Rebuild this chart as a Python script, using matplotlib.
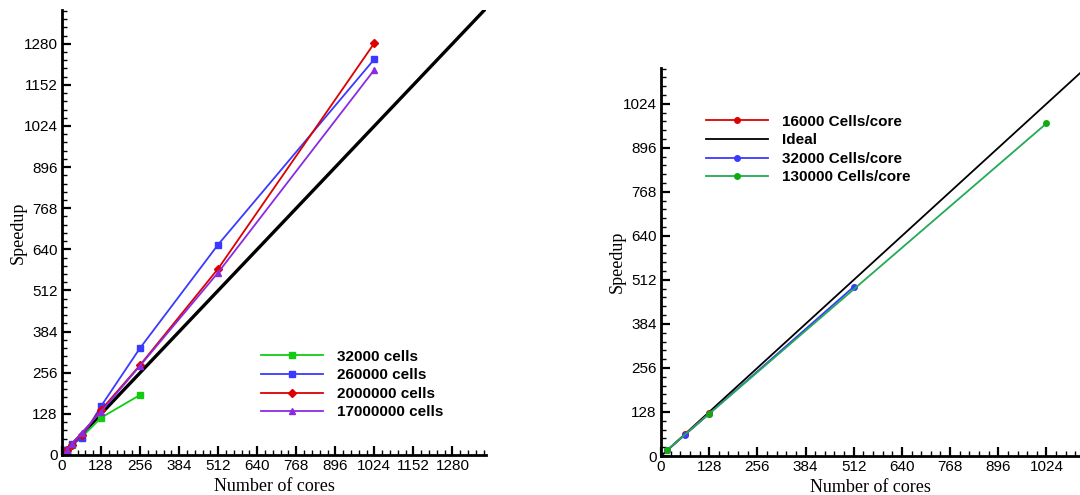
import matplotlib.pyplot as plt
from matplotlib.ticker import MultipleLocator

# ----------------------------------------------------------
# Data (left: strong scaling per mesh size)
# ----------------------------------------------------------

cores_32k = [16, 32, 64, 128, 256]
speedup_32k = [16, 31, 55, 116, 187]

cores_260k = [16, 32, 64, 128, 256, 512, 1024]
speedup_260k = [16, 33, 52, 152, 333, 655, 1232]

cores_2m = [16, 32, 64, 128, 256, 512, 1024]
speedup_2m = [16, 32, 63, 140, 280, 580, 1282]

cores_17m = [16, 32, 64, 128, 256, 512, 1024]
speedup_17m = [16, 34, 68, 135, 278, 568, 1199]

ideal_left = [0, 1500]

# ----------------------------------------------------------
# Data (right: cells per core)
# ----------------------------------------------------------

cores_16k = [16, 64, 128]
speedup_16k = [16, 63, 124]

cores_32kc = [16, 64, 128, 512]
speedup_32kc = [16, 62, 123, 492]

cores_130k = [16, 128, 1024]
speedup_130k = [17, 123, 967]

ideal_right = [0, 1200]

ticks = [0, 128, 256, 384, 512, 640, 768, 896, 1024, 1152, 1280]

plt.rcParams["font.family"] = ["Liberation Sans", "DejaVu Sans"]

fig = plt.figure(figsize=(10.8, 4.95), dpi=100)

ax1 = fig.add_axes([62 / 1080, 1 - 455 / 495, (486 - 62) / 1080, (455 - 10) / 495])
ax2 = fig.add_axes([661 / 1080, 1 - 456 / 495, (1080 - 661) / 1080, (456 - 68) / 495])


def style_axes(ax, xmax, ymax):
    ax.set_xlim(0, xmax)
    ax.set_ylim(0, ymax)
    ax.set_xticks([t for t in ticks if t <= xmax])
    ax.set_yticks([t for t in ticks if t <= ymax])
    ax.xaxis.set_minor_locator(MultipleLocator(25.6))
    ax.yaxis.set_minor_locator(MultipleLocator(25.6))
    ax.tick_params(which="major", direction="in", length=6.5, width=1.6,
                   labelsize=11, pad=3)
    ax.tick_params(which="minor", direction="in", length=3.5, width=1.0)
    for side in ["top", "right"]:
        ax.spines[side].set_visible(False)
    for side in ["left", "bottom"]:
        ax.spines[side].set_linewidth(2.0)
    ax.set_xlabel("Number of cores", family="Liberation Serif", fontsize=13)
    ax.set_ylabel("Speedup", family="Liberation Serif", fontsize=13)


# ----------------------------------------------------------
# Left panel
# ----------------------------------------------------------

ax1.plot(ideal_left, ideal_left, color="black", linewidth=2.4, zorder=1)
ax1.plot(cores_32k, speedup_32k, color="#11cc11", marker="s", markersize=5,
         linewidth=1.3, label="32000 cells")
ax1.plot(cores_260k, speedup_260k, color="#3a3aff", marker="s", markersize=5,
         linewidth=1.3, label="260000 cells")
ax1.plot(cores_2m, speedup_2m, color="#dd0000", marker="D", markersize=4.5,
         linewidth=1.3, label="2000000 cells")
ax1.plot(cores_17m, speedup_17m, color="#8a2be2", marker="^", markersize=5,
         linewidth=1.3, label="17000000 cells")

style_axes(ax1, 1390, 1385)
ax1.yaxis.set_label_coords(-0.084, 0.5)
ax1.xaxis.set_label_coords(0.5, -0.052)

ax1.legend(loc="upper left", bbox_to_anchor=(250 / 1080, 1 - 339 / 495),
           bbox_transform=fig.transFigure, frameon=False,
           prop={"weight": "bold", "size": 11}, handlelength=4.1,
           handletextpad=0.9, labelspacing=0.3, borderpad=0.2)

# ----------------------------------------------------------
# Right panel
# ----------------------------------------------------------

ax2.plot(cores_16k, speedup_16k, color="#dd0000", marker="o", markersize=4,
         linewidth=1.3, label="16000 Cells/core", zorder=2)
ax2.plot(ideal_right, ideal_right, color="black", linewidth=1.3,
         label="Ideal", zorder=1)
ax2.plot(cores_32kc, speedup_32kc, color="#3a3aff", marker="o", markersize=4,
         linewidth=1.3, label="32000 Cells/core", zorder=3)
ax2.plot(cores_130k, speedup_130k, color="#22aa55", marker="o", markersize=4,
         markerfacecolor="#11aa11", markeredgecolor="#11aa11",
         linewidth=1.3, label="130000 Cells/core", zorder=4)

style_axes(ax2, 1113, 1128)
ax2.yaxis.set_label_coords(-0.084, 0.5)
ax2.xaxis.set_label_coords(0.5, -0.058)

ax2.legend(loc="upper left", bbox_to_anchor=(695 / 1080, 1 - 104 / 495),
           bbox_transform=fig.transFigure, frameon=False,
           prop={"weight": "bold", "size": 11}, handlelength=4.1,
           handletextpad=0.9, labelspacing=0.3, borderpad=0.2)

plt.savefig("out.png", dpi=100)
plt.close()
